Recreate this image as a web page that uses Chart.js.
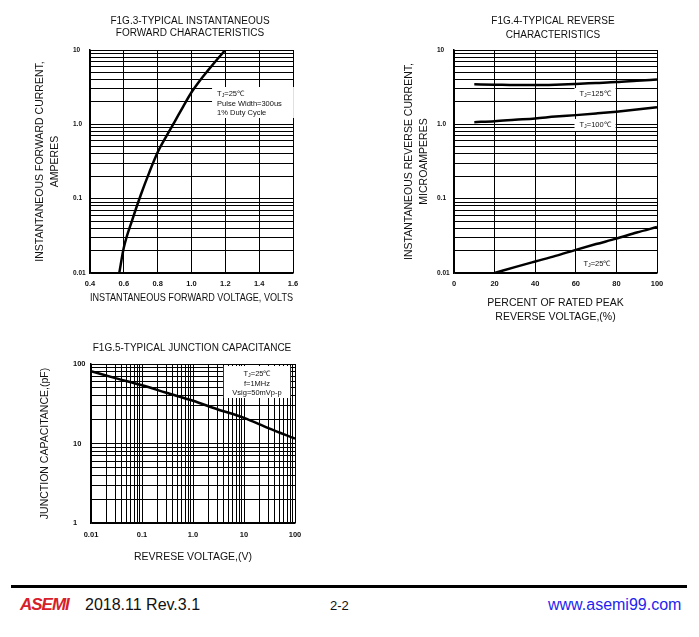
<!DOCTYPE html>
<html>
<head>
<meta charset="utf-8">
<title>Typical characteristics</title>
<script src="https://cdn.jsdelivr.net/npm/chart.js@4.4.0/dist/chart.umd.min.js"></script>
<style>
  html, body { margin: 0; padding: 0; background: #fff; }
  body { width: 699px; height: 637px; position: relative; overflow: hidden; font-family: 'Liberation Sans', Arial, sans-serif; }
  canvas { position: absolute; }
  #fig3 { left: 0; top: 0; }
  #fig4 { left: 370px; top: 0; }
  #fig5 { left: 20px; top: 335px; }
  .rule { position: absolute; left: 11px; top: 585px; width: 676px; height: 3px; background: #000; }
  .foot { position: absolute; line-height: 1; white-space: nowrap; color: #111; }
  .logo { left: 20px; top: 596px; font-size: 17px; font-weight: 900; font-style: italic; color: #d6202a; letter-spacing: -1px; }
  .rev { left: 85px; top: 597px; font-size: 16px; }
  .page { left: 330px; top: 599px; font-size: 13px; }
  .web { left: 548px; top: 597px; font-size: 16px; color: #1f1fef; }
</style>
</head>
<body>
<canvas id="fig3" width="310" height="310"></canvas>
<canvas id="fig4" width="310" height="330"></canvas>
<canvas id="fig5" width="290" height="240"></canvas>
<div class="rule"></div>
<div class="foot logo">ASEMI</div>
<div class="foot rev">2018.11 Rev.3.1</div>
<div class="foot page">2-2</div>
<div class="foot web">www.asemi99.com</div>

<script>
'use strict'

// Fig.3 - forward current vs forward voltage
var fig3Voltage = [0.573, 0.6, 0.65, 0.7, 0.75, 0.8, 0.85, 0.9, 0.95, 1.0, 1.05, 1.1, 1.15, 1.2]
var fig3Current = [0.01, 0.022, 0.052, 0.112, 0.224, 0.42, 0.684, 1.08, 1.72, 2.7, 3.9, 5.4, 7.4, 10]
var fig3XTicks = [0.4, 0.6, 0.8, 1.0, 1.2, 1.4, 1.6]
var fig3XLabels = ['0.4', '0.6', '0.8', '1.0', '1.2', '1.4', '1.6']
var fig3YTicks = [0.01, 0.1, 1, 10]
var fig3YLabels = ['0.01', '0.1', '1.0', '10']

// Fig.4 - reverse current vs percent of rated voltage
var fig4Percent = [10, 20, 30, 40, 50, 60, 70, 80, 90, 100]
var fig4Ir125 = [3.45, 3.42, 3.38, 3.38, 3.42, 3.5, 3.6, 3.7, 3.85, 4.0]
var fig4Ir100 = [1.07, 1.1, 1.15, 1.2, 1.27, 1.33, 1.4, 1.48, 1.58, 1.7]
var fig4Ir25 = [null, 0.01, 0.012, 0.0143, 0.017, 0.0205, 0.0245, 0.029, 0.035, 0.0415]
var fig4XTicks = [0, 20, 40, 60, 80, 100]
var fig4XLabels = ['0', '20', '40', '60', '80', '100']
var fig4YTicks = [0.01, 0.1, 1, 10]
var fig4YLabels = ['0.01', '0.1', '1.0', '10']

// Fig.5 - junction capacitance vs reverse voltage
var fig5Voltage = [0.01, 0.03, 0.1, 0.3, 1, 3, 10, 30, 100]
var fig5Capacitance = [81, 66.5, 54, 43.5, 34.5, 27, 21, 15.6, 11.5]
var fig5XTicks = [0.01, 0.1, 1, 10, 100]
var fig5XLabels = ['0.01', '0.1', '1.0', '10', '100']
var fig5YTicks = [1, 10, 100]
var fig5YLabels = ['1', '10', '100']

var FONT = "'Liberation Sans', Arial, sans-serif"
var INK = '#111'

// every 1..9 step of each decade, for the log paper grid
function logGrid(min, max) {
  var out = []
  for (var d = min; d < max * 1.0001; d *= 10) {
    for (var m = 1; m < 10; m++) {
      var v = parseFloat((m * d).toPrecision(6))
      if (v > max * 1.0001) break
      out.push(v)
    }
  }
  return out
}

function labelFor(ticks, labels) {
  return function (value) {
    for (var i = 0; i < ticks.length; i++) {
      if (Math.abs(value - ticks[i]) <= Math.abs(ticks[i]) * 1e-6) return labels[i]
    }
    return ''
  }
}

function makeAxis(o) {
  return {
    type: o.type,
    min: o.min,
    max: o.max,
    afterBuildTicks: function (scale) {
      scale.ticks = o.grid.map(function (v) { return { value: v } })
    },
    afterFit: function (scale) {
      if (o.horizontal) scale.height = o.size
      else scale.width = o.size
    },
    grid: { color: '#000', lineWidth: 1, drawTicks: false },
    border: { color: '#000', width: 1.5 },
    ticks: {
      autoSkip: false,
      maxRotation: 0,
      minRotation: 0,
      padding: o.tickPad || 0,
      crossAlign: o.horizontal ? 'near' : 'far',
      color: INK,
      font: { family: FONT, size: o.tickSize, weight: 'bold' },
      callback: labelFor(o.ticks, o.labels)
    },
    title: {
      display: true,
      text: o.title,
      color: INK,
      font: { family: FONT, size: 10.5, lineHeight: o.titleLine || 1.43 },
      padding: o.titlePad
    }
  }
}

// text with "_X" drawn as a small lowered X (T_J)
function richRuns(text) {
  var bits = text.split('_')
  var runs = [{ s: bits[0], sub: false }]
  for (var i = 1; i < bits.length; i++) {
    runs.push({ s: bits[i].charAt(0), sub: true })
    runs.push({ s: bits[i].slice(1), sub: false })
  }
  return runs
}

function measureRich(ctx, text, size) {
  var w = 0
  richRuns(text).forEach(function (r) {
    ctx.font = (r.sub ? size * 0.72 : size) + 'px ' + FONT
    w += ctx.measureText(r.s).width
  })
  return w
}

function drawRich(ctx, text, x, y, size, align) {
  var cx = align === 'center' ? x - measureRich(ctx, text, size) / 2 : x
  ctx.textAlign = 'left'
  ctx.textBaseline = 'middle'
  richRuns(text).forEach(function (r) {
    ctx.font = (r.sub ? size * 0.72 : size) + 'px ' + FONT
    ctx.fillText(r.s, cx, y + (r.sub ? size * 0.15 : 0))
    cx += ctx.measureText(r.s).width
  })
}

var headingPlugin = {
  id: 'heading',
  afterDraw: function (chart, args, opts) {
    var ctx = chart.ctx
    var a = chart.chartArea
    ctx.save()
    ctx.font = '10px ' + FONT
    ctx.fillStyle = INK
    ctx.textAlign = 'center'
    ctx.textBaseline = 'middle'
    opts.lines.forEach(function (t, i) {
      ctx.fillText(t, (a.left + a.right) / 2 + (opts.dx || 0), a.top - opts.gap + i * opts.lineHeight)
    })
    ctx.restore()
  }
}

// white label boxes anchored in data coordinates
var notesPlugin = {
  id: 'notes',
  afterDatasetsDraw: function (chart, args, opts) {
    var ctx = chart.ctx
    var xs = chart.scales.x
    var ys = chart.scales.y
    ;(opts.items || []).forEach(function (n) {
      var px = xs.getPixelForValue(n.x)
      var py = ys.getPixelForValue(n.y)
      var size = 7.5
      var lh = 9.5
      var p = n.pad
      ctx.save()
      var widest = 0
      n.lines.forEach(function (t) { widest = Math.max(widest, measureRich(ctx, t, size)) })
      var left = n.align === 'center' ? px - widest / 2 : px
      ctx.fillStyle = '#fff'
      ctx.fillRect(left - p[3], py - p[0], widest + p[1] + p[3], (n.lines.length - 1) * lh + p[0] + p[2])
      ctx.fillStyle = INK
      n.lines.forEach(function (t, i) { drawRich(ctx, t, px, py + i * lh, size, n.align) })
      ctx.restore()
    })
  }
}

function curve(xs, ys) {
  return {
    data: xs.map(function (x, i) { return { x: x, y: ys[i] } }),
    borderColor: '#000',
    borderWidth: 2.5,
    pointRadius: 0,
    cubicInterpolationMode: 'monotone'
  }
}

function baseOptions(padding, heading, notes, x, y) {
  return {
    responsive: false,
    animation: false,
    events: [],
    layout: { padding: padding },
    plugins: {
      legend: { display: false },
      tooltip: { enabled: false },
      heading: heading,
      notes: { items: notes }
    },
    scales: { x: x, y: y }
  }
}

// Fig.3
new Chart(document.getElementById('fig3'), {
  type: 'line',
  data: { datasets: [curve(fig3Voltage, fig3Current)] },
  options: baseOptions(
    { left: 73, top: 50, right: 17, bottom: 0 },
    { lines: ['F1G.3-TYPICAL INSTANTANEOUS', 'FORWARD CHARACTERISTICS'], gap: 28.3, lineHeight: 12, dx: -1.5 },
    [{ x: 1.151, y: 2.56, align: 'left', pad: [7, 12, 5, 5],
       lines: ['T_J=25\u2103', 'Pulse Width=300us', '1% Duty Cycle'] }],
    makeAxis({ type: 'linear', min: 0.4, max: 1.6, horizontal: true, size: 37, tickPad: 6.5, tickSize: 7.5,
               grid: fig3XTicks, ticks: fig3XTicks, labels: fig3XLabels,
               title: 'INSTANTANEOUS FORWARD VOLTAGE, VOLTS', titlePad: { top: 0, bottom: 4.5 } }),
    makeAxis({ type: 'logarithmic', min: 0.01, max: 10, size: 17, tickSize: 6.5,
               grid: logGrid(0.01, 10), ticks: fig3YTicks, labels: fig3YLabels,
               title: ['INSTANTANEOUS FORWARD CURRENT,', 'AMPERES'], titlePad: { top: -40.5, bottom: 0 } })
  ),
  plugins: [headingPlugin, notesPlugin]
})

// Fig.4
new Chart(document.getElementById('fig4'), {
  type: 'line',
  data: {
    datasets: [
      curve(fig4Percent, fig4Ir125),
      curve(fig4Percent, fig4Ir100),
      curve(fig4Percent, fig4Ir25)
    ]
  },
  options: baseOptions(
    { left: 67, top: 50, right: 23, bottom: 0 },
    { lines: ['F1G.4-TYPICAL REVERSE', 'CHARACTERISTICS'], gap: 28.3, lineHeight: 13.3, dx: -2.5 },
    [
      { x: 69.5, y: 2.56, align: 'center', pad: [6, 5, 6, 5], lines: ['T_J=125\u2103'] },
      { x: 69.5, y: 0.98, align: 'center', pad: [6, 5, 6, 5], lines: ['T_J=100\u2103'] },
      { x: 70.4, y: 0.0132, align: 'center', pad: [5, 5, 5, 5], lines: ['T_J=25\u2103'] }
    ],
    makeAxis({ type: 'linear', min: 0, max: 100, horizontal: true, size: 57, tickPad: 6.5, tickSize: 7.5,
               grid: fig4XTicks, ticks: fig4XTicks, labels: fig4XLabels,
               title: ['PERCENT OF RATED PEAK', 'REVERSE VOLTAGE,(%)'], titleLine: 1.333,
               titlePad: { top: 0, bottom: 6 } }),
    makeAxis({ type: 'logarithmic', min: 0.01, max: 10, size: 17, tickSize: 6.5,
               grid: logGrid(0.01, 10), ticks: fig4YTicks, labels: fig4YLabels,
               title: ['INSTANTANEOUS REVERSE CURRENT,', 'MICROAMPERES'], titlePad: { top: -35.5, bottom: 0 } })
  ),
  plugins: [headingPlugin, notesPlugin]
})

// Fig.5
new Chart(document.getElementById('fig5'), {
  type: 'line',
  data: { datasets: [curve(fig5Voltage, fig5Capacitance)] },
  options: baseOptions(
    { left: 53, top: 29, right: 15, bottom: 0 },
    { lines: ['F1G.5-TYPICAL JUNCTION CAPACITANCE'], gap: 16, lineHeight: 12, dx: -1 },
    [{ x: 17.98, y: 74.8, align: 'center', pad: [8, 8.5, 5, 8.5],
       lines: ['T_J=25\u2103', 'f=1MHz', 'Vsig=50mVp-p'] }],
    makeAxis({ type: 'logarithmic', min: 0.01, max: 100, horizontal: true, size: 52, tickPad: 7.5, tickSize: 7.5,
               grid: logGrid(0.01, 100), ticks: fig5XTicks, labels: fig5XLabels,
               title: 'REVRESE VOLTAGE,(V)', titlePad: { top: 0, bottom: 10.5 } }),
    makeAxis({ type: 'logarithmic', min: 1, max: 100, size: 18, tickSize: 7.5,
               grid: logGrid(1, 100), ticks: fig5YTicks, labels: fig5YLabels,
               title: 'JUNCTION CAPACITANCE,(pF)', titlePad: { top: -35.5, bottom: 0 } })
  ),
  plugins: [headingPlugin, notesPlugin]
})
</script>
</body>
</html>
